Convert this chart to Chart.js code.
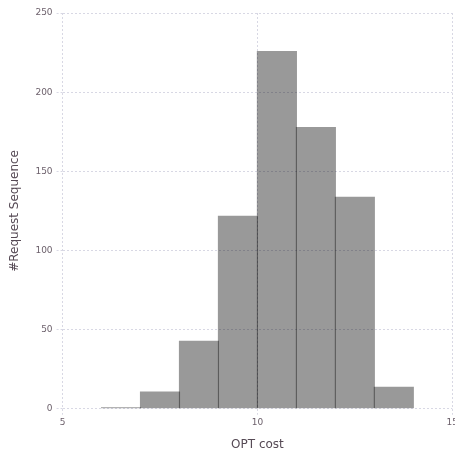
<!DOCTYPE html>
<html>
<head>
<meta charset="utf-8">
<script src="https://cdn.jsdelivr.net/npm/chart.js@4/dist/chart.umd.min.js"></script>
<style>
    html, body { margin: 0; padding: 0; background: #fff; overflow: hidden; }
    #wrap { position: absolute; left: 0; top: 0; width: 460px; height: 456px; }
</style>
</head>
<body>
<div id="wrap"><canvas id="histChart"></canvas></div>
<script>
// histogram bins (left edge, width 1) and counts
let binStarts = [6, 7, 8, 9, 10, 11, 12, 13];
let counts = [1, 11, 43, 122, 226, 178, 134, 14];
let xTicks = [5, 10, 15];
let yTicks = [0, 50, 100, 150, 200, 250];

let points = binStarts.map((b, i) => ({ x: b + 0.5, y: counts[i] }));

let tickColor = "#6c606b";
let gridColor = "#d8d8e4";

new Chart(document.getElementById("histChart"), {
    type: "bar",
    data: {
        datasets: [{
            data: points,
            backgroundColor: "rgba(0,0,0,0.4)",
            borderWidth: 0,
            barPercentage: 1.03,
            categoryPercentage: 1
        }]
    },
    options: {
        responsive: true,
        maintainAspectRatio: false,
        animation: false,
        layout: { padding: { left: 8, top: 13, right: 0, bottom: 4 } },
        plugins: { legend: { display: false }, tooltip: { enabled: false } },
        scales: {
            x: {
                type: "linear",
                min: 5,
                max: 15,
                offset: false,
                afterBuildTicks: scale => { scale.ticks = xTicks.map(v => ({ value: v })); },
                grid: { color: gridColor, lineWidth: 1, offset: false, tickLength: 6, tickBorderDash: [2, 2] },
                border: { display: false, dash: [2, 2] },
                ticks: { color: tickColor, font: { family: "DejaVu Sans", size: 9 }, padding: 2, maxRotation: 0 },
                title: { display: true, text: "OPT cost", color: "#564a55", font: { family: "DejaVu Sans", size: 12 }, padding: { top: 8, bottom: 0 } }
            },
            y: {
                min: 0,
                max: 250,
                afterBuildTicks: scale => { scale.ticks = yTicks.map(v => ({ value: v })); },
                grid: { color: gridColor, lineWidth: 1, tickLength: 6, tickBorderDash: [2, 2] },
                border: { display: false, dash: [2, 2] },
                ticks: { color: tickColor, font: { family: "DejaVu Sans", size: 9 }, padding: 4 },
                title: { display: true, text: "#Request Sequence", color: "#564a55", font: { family: "DejaVu Sans", size: 12 }, padding: { top: 0, bottom: 9 } }
            }
        }
    }
});
</script>
</body>
</html>
